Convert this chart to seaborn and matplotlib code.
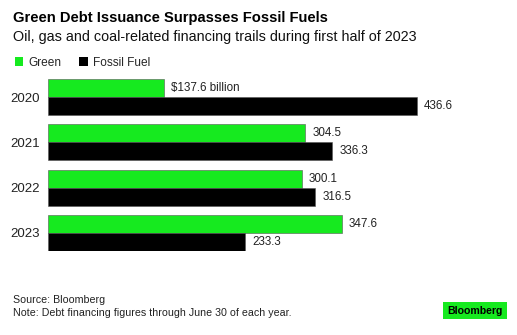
import matplotlib
matplotlib.use("Agg")
import matplotlib.pyplot as plt
import seaborn as sns
import pandas as pd
from matplotlib.patches import FancyBboxPatch

years = ["2020", "2021", "2022", "2023"]
green = [137.6, 304.5, 300.1, 347.6]
fossil = [436.6, 336.3, 316.5, 233.3]
series = ["Green", "Fossil Fuel"]
colors = ["#16ea1f", "#000000"]

df = pd.DataFrame({
    "year": years * 2,
    "value": green + fossil,
    "type": [series[0]] * len(years) + [series[1]] * len(years),
})

sns.set_theme(style="white")
plt.rcParams["font.family"] = ["Liberation Sans", "DejaVu Sans"]

W, H = 517, 335
fig = plt.figure(figsize=(W / 100, H / 100), dpi=100)
ax = fig.add_axes([48 / W, 1 - 251 / H, 452 / W, 172 / H])

sns.barplot(data=df, y="year", x="value", hue="type", orient="h",
            palette=colors, width=0.8, saturation=1, ax=ax,
            edgecolor="#555555", linewidth=0.4)

ax.set_xlim(0, 452 / 0.845)
ax.set_ylim(3.4, -0.4)
ax.set_xlabel("")
ax.set_ylabel("")
ax.set_xticks([])
for s in ax.spines.values():
    s.set_visible(False)
ax.tick_params(axis="y", length=0, pad=6, labelsize=9.5, labelcolor="#222222")

for i, cont in enumerate(ax.containers):
    vals = green if i == 0 else fossil
    labels = [f"{v:.1f}" for v in vals]
    if i == 0:
        labels[0] = f"${vals[0]:.1f} billion"
    ax.bar_label(cont, labels=labels, padding=5, fontsize=8.4, color="#222222")

sns.move_legend(ax, loc="upper left", bbox_to_anchor=(4 / W, 1 - 46 / H),
                bbox_transform=fig.transFigure, ncol=2, frameon=False,
                title=None, handlelength=0.7, handleheight=0.7,
                handletextpad=0.45, columnspacing=1.5, fontsize=8.6)
for h in ax.get_legend().legend_handles:
    h.set_edgecolor("none")

fig.text(13 / W, 1 - 18 / H, "Green Debt Issuance Surpasses Fossil Fuels",
         fontsize=10.6, fontweight="bold", va="center", ha="left", color="#000000")
fig.text(13 / W, 1 - 37 / H, "Oil, gas and coal-related financing trails during first half of 2023",
         fontsize=10.4, va="center", ha="left", color="#111111")

fig.text(13 / W, 1 - 300 / H, "Source: Bloomberg", fontsize=7.65, va="center", color="#222222")
fig.text(13 / W, 1 - 313 / H, "Note: Debt financing figures through June 30 of each year.",
         fontsize=7.65, va="center", color="#222222")

fig.patches.append(FancyBboxPatch((443 / W, 1 - 319 / H), 64 / W, 17 / H,
                                  boxstyle="square,pad=0", transform=fig.transFigure,
                                  facecolor="#16ea1f", edgecolor="none"))
fig.text(475 / W, 1 - 310.5 / H, "Bloomberg", fontsize=7.6, fontweight="bold",
         ha="center", va="center", color="#000000")

fig.savefig("out.png", dpi=100)
